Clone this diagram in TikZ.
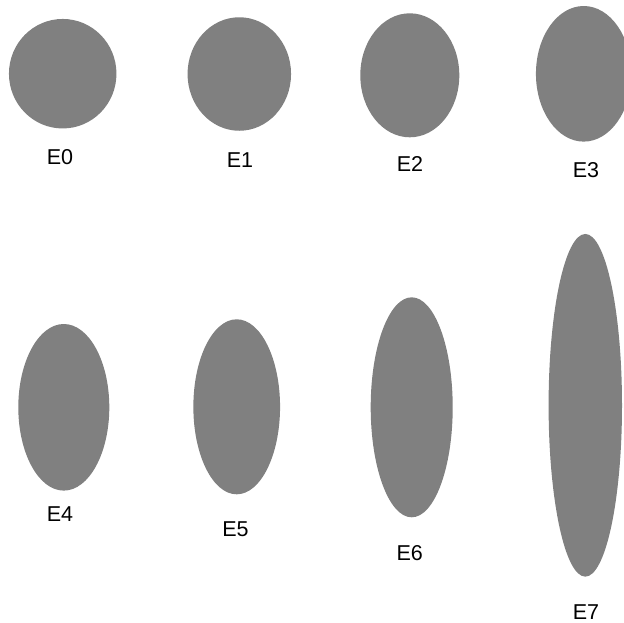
\documentclass[tikz,border=0pt]{standalone}
\usepackage{fontspec}
\setmainfont{Liberation Sans}
\usetikzlibrary{shapes.geometric}
\definecolor{blobgray}{HTML}{808080}
\tikzset{
  blob/.style={ellipse, fill=blobgray, draw=none, inner sep=0pt},
  lbl/.style={font=\fontsize{21.5}{24}\selectfont, inner sep=0pt, text=black}
}
\begin{document}
\begin{tikzpicture}[x=1pt,y=-1pt]
\useasboundingbox (0,0) rectangle (624,622);
\clip (0,0) rectangle (624,622);
\fill[white] (0,0) rectangle (624,622);
\node[blob, minimum width=107.5pt, minimum height=109.5pt] (e0) at (62.7,73.7) {};
\node[blob, minimum width=103.5pt, minimum height=113.5pt] (e1) at (239.3,74) {};
\node[blob, minimum width=99pt, minimum height=124pt] (e2) at (409.8,75.3) {};
\node[blob, minimum width=95.5pt, minimum height=135.6pt] (e3) at (583.7,73.8) {};
\node[blob, minimum width=91pt, minimum height=166.6pt] (e4) at (63.8,407.3) {};
\node[blob, minimum width=86.7pt, minimum height=175pt] (e5) at (236.7,406.8) {};
\node[blob, minimum width=82pt, minimum height=220pt] (e6) at (411.7,407.3) {};
\node[blob, minimum width=73.4pt, minimum height=342.7pt] (e7) at (585.3,405.3) {};
\node[lbl] (l0) at (60,157) {E0};
\node[lbl] (l1) at (240,160) {E1};
\node[lbl] (l2) at (410,163.5) {E2};
\node[lbl] (l3) at (586,170.5) {E3};
\node[lbl] (l4) at (60,513.7) {E4};
\node[lbl] (l5) at (235.5,529) {E5};
\node[lbl] (l6) at (409.7,553.3) {E6};
\node[lbl] (l7) at (586,611.7) {E7};
\end{tikzpicture}
\end{document}
